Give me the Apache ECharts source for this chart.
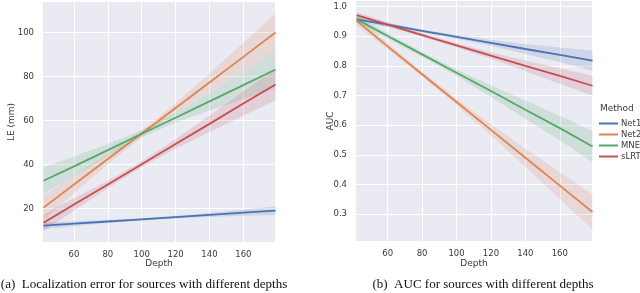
<!DOCTYPE html>
<html><head><meta charset="utf-8">
<script src="https://cdn.jsdelivr.net/npm/echarts@6/dist/echarts.min.js"></script>
<style>html,body{margin:0;padding:0;background:#fff}#c{width:640px;height:293px}</style>
</head><body><div id="c"></div>
<script>
const methods = ['Net1', 'Net2', 'MNE', 'sLRT'];
const depths = [42, 60, 80, 100, 120, 140, 160, 179];
const xTicks = [60, 80, 100, 120, 140, 160];
const leTicks = [20, 40, 60, 80, 100];
const aucTicks = [0.3, 0.4, 0.5, 0.6, 0.7, 0.8, 0.9, 1.0];

// Localization error (mm): regression line and CI half-width
const leNet1 = [12.3, 13.2, 14.2, 15.2, 16.2, 17.2, 18.2, 19.1];
const leNet1Hw = [1.5, 1.1, 0.7, 0.5, 0.6, 0.9, 1.4, 2.0];
const leNet2 = [20.5, 31.0, 42.6, 54.1, 65.7, 77.3, 88.9, 100.0];
const leNet2Hw = [5.5, 4.0, 2.4, 1.5, 2.2, 4.2, 6.4, 8.6];
const leMNE = [32.7, 39.2, 46.6, 54.0, 61.3, 68.7, 76.1, 83.2];
const leMNEHw = [6.0, 4.5, 2.8, 1.6, 2.2, 4.2, 6.3, 8.5];
const leSLRT = [13.6, 21.9, 31.0, 40.2, 49.4, 58.5, 67.7, 76.4];
const leSLRTHw = [3.8, 2.8, 1.7, 1.3, 2.2, 3.8, 5.5, 7.2];

// AUC: regression line and CI half-width
const aucNet1 = [0.957, 0.939, 0.918, 0.898, 0.878, 0.857, 0.837, 0.818];
const aucNet1Hw = [0.010, 0.007, 0.005, 0.006, 0.010, 0.017, 0.025, 0.034];
const aucNet2 = [0.952, 0.866, 0.772, 0.678, 0.584, 0.490, 0.396, 0.307];
const aucNet2Hw = [0.015, 0.011, 0.009, 0.011, 0.019, 0.031, 0.045, 0.060];
const aucMNE = [0.957, 0.901, 0.839, 0.777, 0.715, 0.652, 0.590, 0.528];
const aucMNEHw = [0.012, 0.009, 0.008, 0.011, 0.020, 0.031, 0.042, 0.052];
const aucSLRT = [0.971, 0.939, 0.904, 0.869, 0.835, 0.800, 0.766, 0.733];
const aucSLRTHw = [0.011, 0.008, 0.006, 0.007, 0.011, 0.018, 0.026, 0.034];

const colors = ['#4C72B0', '#DD8452', '#55A868', '#C44E52'];
const leData = [[leNet1, leNet1Hw], [leNet2, leNet2Hw], [leMNE, leMNEHw], [leSLRT, leSLRTHw]];
const aucData = [[aucNet1, aucNet1Hw], [aucNet2, aucNet2Hw], [aucMNE, aucMNEHw], [aucSLRT, aucSLRTHw]];

const tickFont = { fontFamily: 'DejaVu Sans', fontSize: 8.5, color: '#3a3a3a' };

function band(ai, center, hw, color) {
  return {
    type: 'custom', xAxisIndex: ai, yAxisIndex: ai, silent: true, z: 1,
    data: [[depths[0], center[0]]],
    renderItem: function (params, api) {
      const up = depths.map((d, i) => api.coord([d, center[i] + hw[i]]));
      const lo = depths.map((d, i) => api.coord([d, center[i] - hw[i]])).reverse();
      return { type: 'polygon', shape: { points: up.concat(lo) }, style: { fill: color, opacity: 0.17 } };
    }
  };
}
function line(ai, name, center, color) {
  return {
    type: 'line', name: name, xAxisIndex: ai, yAxisIndex: ai, z: 3,
    data: depths.map((d, i) => [d, center[i]]),
    showSymbol: false, symbol: 'none', silent: true,
    lineStyle: { color: color, width: 1.8 }, itemStyle: { color: color }
  };
}

const series = [];
[leData, aucData].forEach((panel, ai) => {
  panel.forEach((p, k) => series.push(band(ai, p[0], p[1], colors[k])));
  panel.forEach((p, k) => series.push(line(ai, methods[k], p[0], colors[k])));
});

function xAxis(gi, min, max) {
  return {
    type: 'value', gridIndex: gi, min: min, max: max,
    axisLine: { show: false },
    axisTick: { show: false, customValues: xTicks },
    axisLabel: Object.assign({ customValues: xTicks, margin: 8 }, tickFont),
    splitLine: { show: true, lineStyle: { color: '#ffffff', width: 1 } }
  };
}
function yAxis(gi, min, max, ticks, fmt) {
  return {
    type: 'value', gridIndex: gi, min: min, max: max,
    axisLine: { show: false },
    axisTick: { show: false, customValues: ticks },
    axisLabel: Object.assign({ customValues: ticks, margin: 9, formatter: fmt }, tickFont),
    splitLine: { show: true, lineStyle: { color: '#ffffff', width: 1 } }
  };
}

const chart = echarts.init(document.getElementById('c'), null, { renderer: 'canvas' });
chart.setOption({
  animation: false,
  backgroundColor: '#ffffff',
  grid: [
    { left: 43, right: 365, top: 2, bottom: 51, show: true, backgroundColor: '#EAEAF2', borderWidth: 0 },
    { left: 356, right: 48, top: 1, bottom: 52, show: true, backgroundColor: '#EAEAF2', borderWidth: 0 }
  ],
  xAxis: [xAxis(0, 41.7, 178.7), xAxis(1, 41.6, 178.7)],
  yAxis: [
    yAxis(0, 4.9, 113.8, leTicks, v => String(v)),
    yAxis(1, 0.209, 1.019, aucTicks, v => v.toFixed(1))
  ],
  legend: {
    data: methods, orient: 'vertical', left: 594, top: 114,
    icon: 'rect', itemWidth: 19, itemHeight: 2, itemGap: 2,
    textStyle: { fontFamily: 'DejaVu Sans', fontSize: 8.5, color: '#3a3a3a', padding: [0, 0, 0, -2] },
    selectedMode: false
  },
  graphic: [
    { type: 'text', left: 600, top: 104, style: { text: 'Method', font: '9px "DejaVu Sans"', fill: '#3a3a3a' } },
    { type: 'text', x: 12, y: 122, rotation: Math.PI / 2, style: { text: 'LE (mm)', font: '9px "DejaVu Sans"', fill: '#3a3a3a', align: 'center', verticalAlign: 'middle' } },
    { type: 'text', x: 331, y: 121, rotation: Math.PI / 2, style: { text: 'AUC', font: '9px "DejaVu Sans"', fill: '#3a3a3a', align: 'center', verticalAlign: 'middle' } },
    { type: 'text', x: 159, y: 264, style: { text: 'Depth', font: '9px "DejaVu Sans"', fill: '#3a3a3a', align: 'center', verticalAlign: 'middle' } },
    { type: 'text', x: 474, y: 264, style: { text: 'Depth', font: '9px "DejaVu Sans"', fill: '#3a3a3a', align: 'center', verticalAlign: 'middle' } },
    { type: 'text', x: 144, y: 285, style: { text: '(a)  Localization error for sources with different depths', font: '13px "Liberation Serif"', fill: '#111', align: 'center', verticalAlign: 'middle' } },
    { type: 'text', x: 483, y: 285, style: { text: '(b)  AUC for sources with different depths', font: '13px "Liberation Serif"', fill: '#111', align: 'center', verticalAlign: 'middle' } }
  ],
  series: series
});
</script></body></html>
